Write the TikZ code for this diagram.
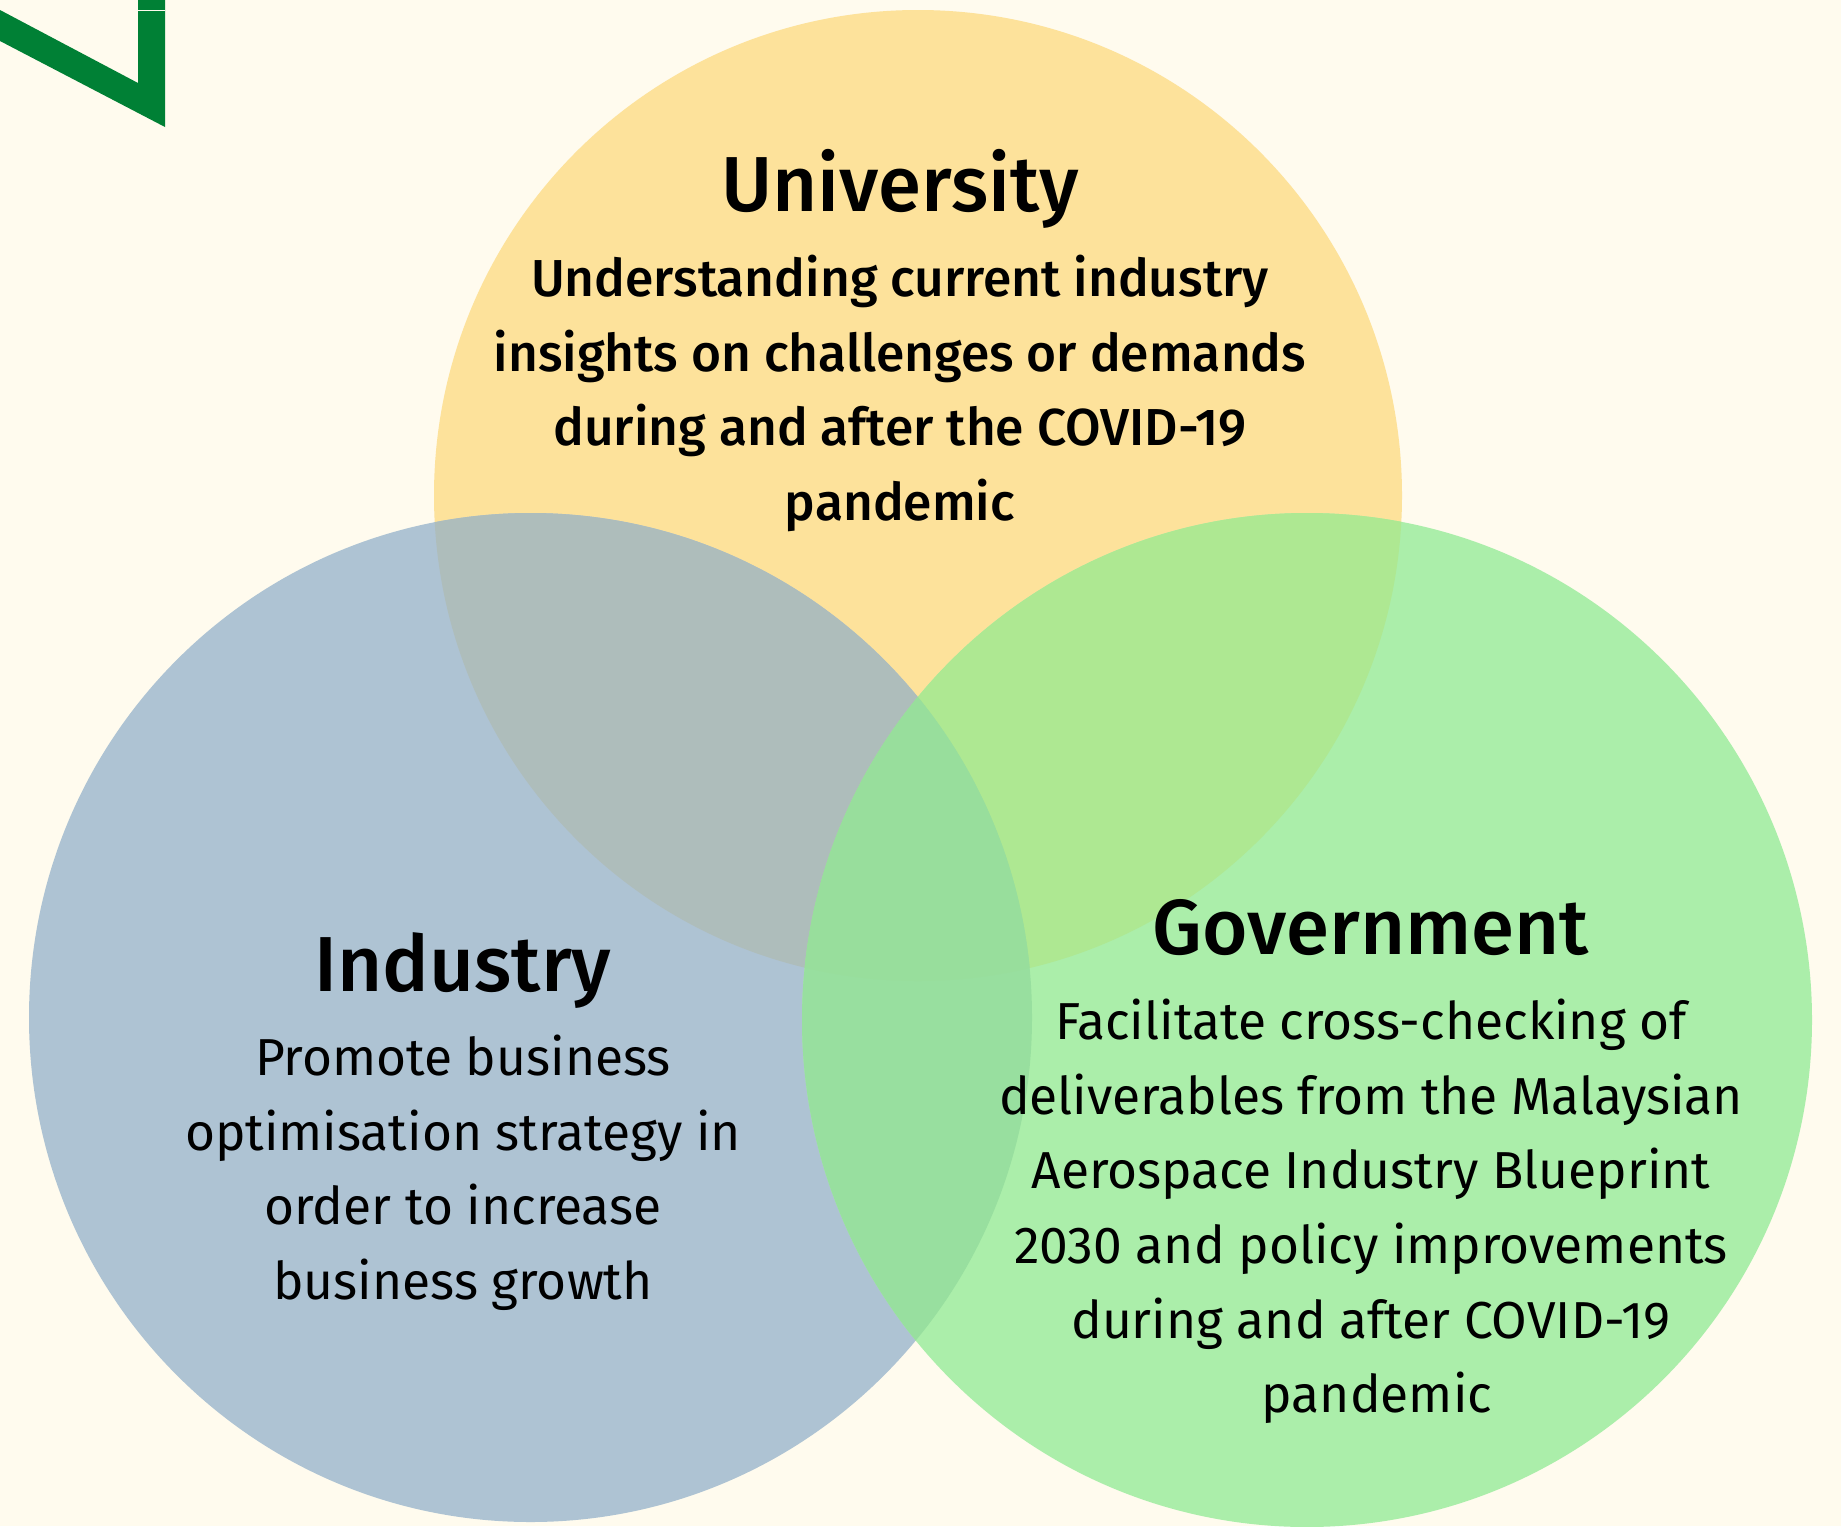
\documentclass[tikz,border=0pt]{standalone}
\usepackage{fontspec}
\setmainfont{Fira Sans}
\newfontfamily\ttlf[FakeStretch=1.0]{Fira Sans Medium}
\newfontfamily\semi[FakeStretch=0.99]{Fira Sans Medium}
\newfontfamily\regu[FakeStretch=0.99]{Fira Sans}
\definecolor{bgc}{HTML}{FFFBEE}
\definecolor{yel}{HTML}{FDE29B}
\definecolor{blu}{HTML}{AEC3D3}
\definecolor{gre}{HTML}{ABEEAA}
\definecolor{yb}{HTML}{AEBDBB}
\definecolor{yg}{HTML}{AEE892}
\definecolor{bgt}{HTML}{98DF9F}
\definecolor{tri}{HTML}{98DE9C}
\definecolor{mkc}{HTML}{008035}
\tikzset{
  ttl/.style={anchor=base,inner sep=0pt,font=\ttlf\fontsize{78}{78}\selectfont},
  bodyS/.style={inner sep=0pt,align=center,font=\semi\fontsize{52}{74.6}\selectfont},
  bodyR/.style={inner sep=0pt,align=center,font=\regu\fontsize{52}{74.6}\selectfont},
}
\def\cY{(918,495.5) ellipse (484 and 485.5)}
\def\cB{(530.5,1017.5) ellipse (501.5 and 504.5)}
\def\cG{(1307,1020) ellipse (505 and 507)}
\begin{document}
\begin{tikzpicture}[x=1pt,y=-1pt]
\useasboundingbox (0,0) rectangle (1841,1526);
\fill[bgc] (0,0) rectangle (1841,1526);
\fill[mkc] (0,10) -- (138,83) -- (138,0) -- (165,0) -- (165,127) -- (0,41) -- cycle;
\fill[bgc] (138,9.5) rectangle (165,10.6);
\fill[yel] \cY;
\fill[blu] \cB;
\fill[gre] \cG;
\begin{scope}\clip \cY; \fill[yb] \cB; \end{scope}
\begin{scope}\clip \cY; \fill[yg] \cG; \end{scope}
\begin{scope}\clip \cB; \fill[bgt] \cG; \end{scope}
\begin{scope}\clip \cY; \clip \cB; \fill[tri] \cG; \end{scope}
\node[ttl] (t1) at (900,211) {University};
\node[bodyS,anchor=north] (b1) at (900,255) {Understanding current industry\\insights on challenges or demands\\during and after the COVID-19\\pandemic};
\node[ttl] (t2) at (463,991) {Industry};
\node[bodyR,anchor=north] (b2) at (463,1035) {Promote business\\optimisation strategy in\\order to increase\\business growth};
\node[ttl] (t3) at (1371,954) {Government};
\node[bodyR,anchor=north] (b3) at (1371,999) {Facilitate cross-checking of\\deliverables from the Malaysian\\Aerospace Industry Blueprint\\2030 and policy improvements\\during and after COVID-19\\\hspace*{12pt}pandemic};
\end{tikzpicture}
\end{document}
